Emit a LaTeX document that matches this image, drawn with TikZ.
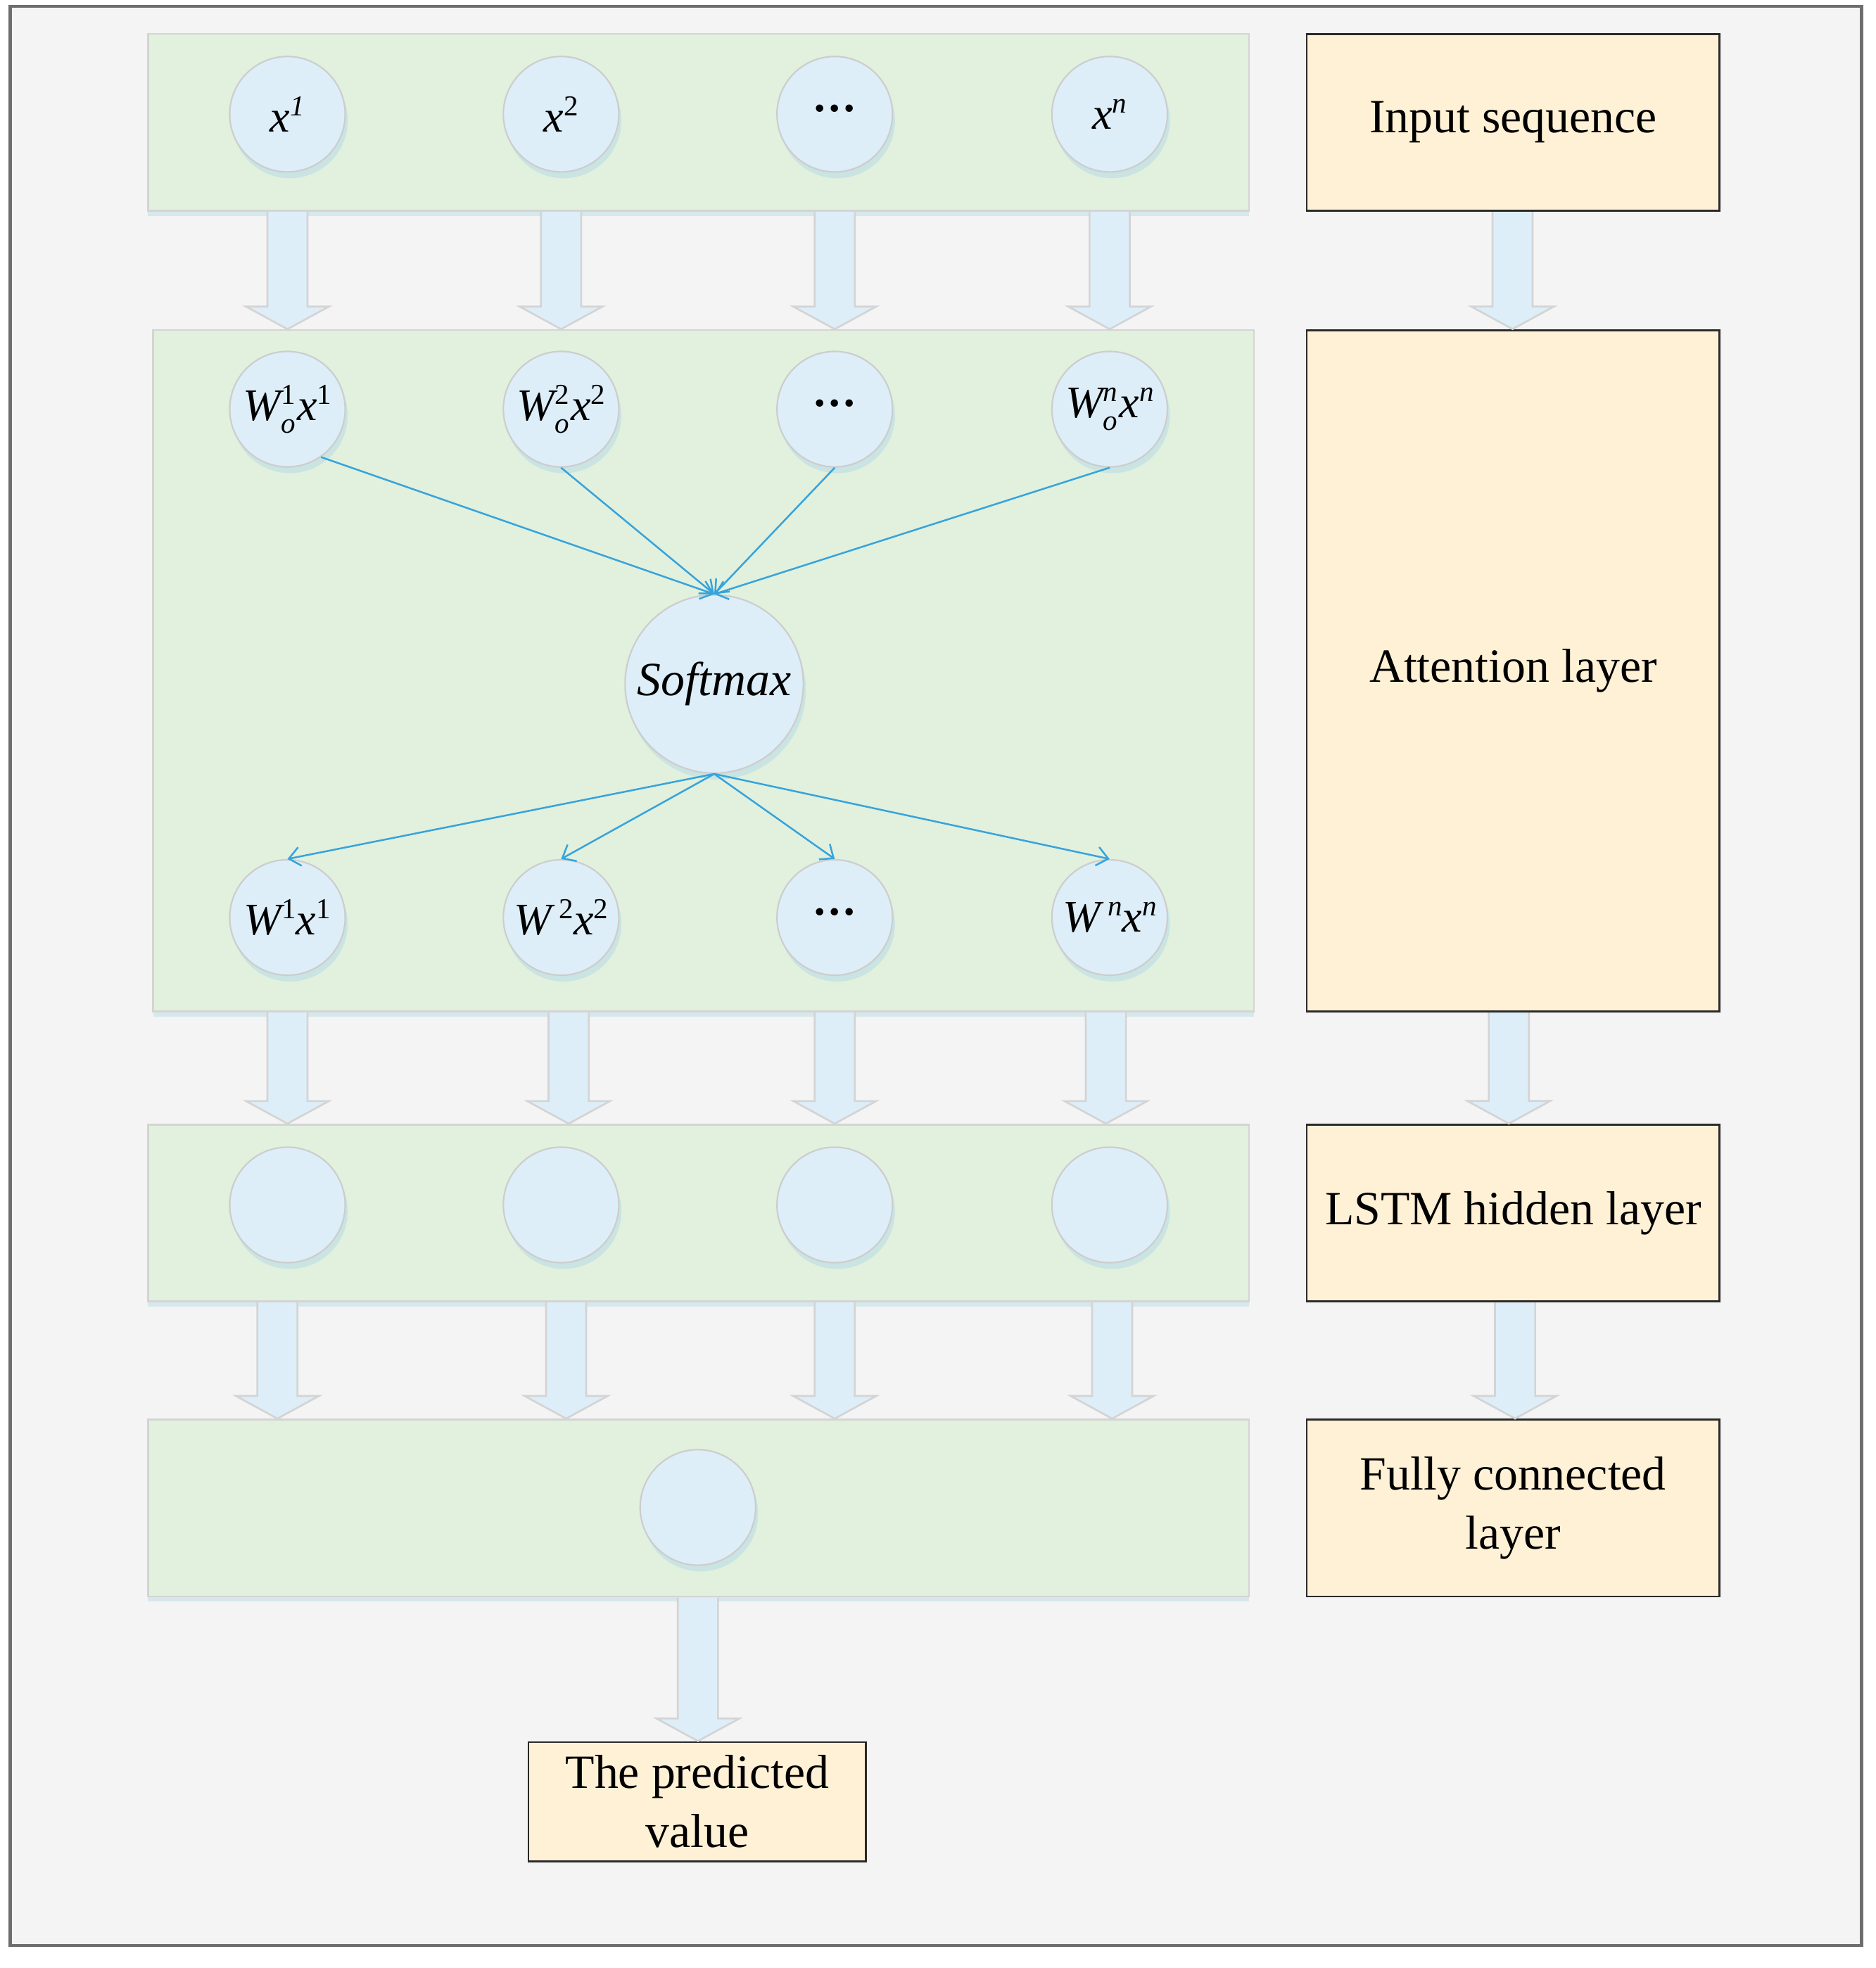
\documentclass[tikz,border=0pt]{standalone}
\usepackage{fontspec}
\setmainfont{Liberation Serif}
\usetikzlibrary{arrows.meta,shadows,calc}
\definecolor{bgc}{HTML}{F4F4F4}
\definecolor{framec}{HTML}{6E6E6E}
\definecolor{panelc}{HTML}{E2F0DE}
\definecolor{panelb}{HTML}{D4D4D4}
\definecolor{circc}{HTML}{DDEEF9}
\definecolor{circb}{HTML}{CDCDCD}
\definecolor{boxc}{HTML}{FFF1D5}
\definecolor{boxb}{HTML}{2A2A2A}
\definecolor{linec}{HTML}{36A4DB}
\definecolor{shadc}{HTML}{B9DDE6}
\newcommand\lblsmall{\fontsize{23}{23}\selectfont}
\newcommand\supx[1]{\raisebox{0.36em}{\lblsmall #1}}
\newcommand\subsup[2]{\makebox[0pt][l]{\raisebox{0.36em}{\lblsmall #2}}\raisebox{-0.28em}{\lblsmall #1}\hspace{0.04em}}
\newcommand\barrow[3]{%
  \path (#1,0 |- #2.south) coordinate (ba1) (#1,0 |- #3.north) coordinate (ba2);
  \draw[blockarrow] ($(ba1)+(-16,0)$) -- ($(ba2)+(-16,-18)$) -- ($(ba2)+(-33,-18)$)
    -- (ba2) -- ($(ba2)+(33,-18)$) -- ($(ba2)+(16,-18)$) -- ($(ba1)+(16,0)$);
}
\begin{document}
\begin{tikzpicture}[x=1pt,y=-1pt,
  font=\fontsize{38}{47}\selectfont,
  panel/.style={draw=panelb, fill=panelc, line width=1.5pt, inner sep=0pt,
    minimum width=877pt, drop shadow={shadow xshift=0pt, shadow yshift=-4pt, fill=shadc, opacity=0.5}},
  layerbox/.style={draw=boxb, fill=boxc, line width=1.6pt, inner sep=0pt, align=center},
  neuron/.style={circle, draw=circb, fill=circc, line width=1.2pt, inner sep=0pt,
    minimum size=92pt, font=\fontsize{36}{40}\selectfont,
    drop shadow={shadow xshift=2pt, shadow yshift=-5pt, fill=shadc, opacity=0.6}},
  blockarrow/.style={draw=panelb, fill=circc, line width=1.5pt, line join=miter},
  conn/.style={draw=linec, line width=1.4pt, -{Straight Barb[length=9pt,width=15pt]}}
]
\useasboundingbox (0,0) rectangle (1494,1568);
\fill[white] (0,0) rectangle (1494,1568);
\draw[draw=framec, line width=2.5pt, fill=bgc] (8,5) rectangle (1483,1550);

% panels
\node[panel, minimum height=141pt] (p1) at (556.5,97.5) {};
\node[panel, minimum height=543pt] (p2) at (560.5,534.5) {};
\node[panel, minimum height=141pt] (p3) at (556.5,966.5) {};
\node[panel, minimum height=141pt] (p4) at (556.5,1201.5) {};

% right-hand boxes
\node[layerbox, minimum width=329pt, minimum height=141pt] (r1) at (1205.5,97.5) {Input sequence};
\node[layerbox, minimum width=329pt, minimum height=543pt] (r2) at (1205.5,534.5) {Attention layer};
\node[layerbox, minimum width=329pt, minimum height=141pt] (r3) at (1205.5,966.5) {LSTM hidden layer};
\node[layerbox, minimum width=329pt, minimum height=141pt] (r4) at (1205.5,1201.5) {Fully connected\\layer};
\node[layerbox, minimum width=269pt, minimum height=95pt] (out) at (555.5,1435.5) {The predicted\\value};

% neurons
\node[neuron] (t1) at (229,91) {{\itshape x}\supx{\itshape 1}};
\node[neuron] (t2) at (447,91) {{\itshape x}\supx{2}};
\node[neuron] (t3) at (665,91) {\textbf{···}};
\node[neuron] (t4) at (884,91) {{\itshape x}\supx{\itshape n}};

\node[neuron] (w1) at (229,326) {{\itshape W}\subsup{\itshape o}{1}{\itshape x}\supx{1}};
\node[neuron] (w2) at (447,326) {{\itshape W}\subsup{\itshape o}{2}{\itshape x}\supx{2}};
\node[neuron] (w3) at (665,326) {\textbf{···}};
\node[neuron] (w4) at (884,326) {{\itshape W}\subsup{\itshape o}{\itshape n}{\itshape x}\supx{\itshape n}};

\node[neuron, minimum size=142pt, font=\fontsize{38}{47}\selectfont\itshape] (sm) at (569,545) {Softmax};

\node[neuron] (v1) at (229,731) {{\itshape W}\supx{1}{\itshape x}\supx{1}};
\node[neuron] (v2) at (447,731) {{\itshape W}\,\supx{2}{\itshape x}\supx{2}};
\node[neuron] (v3) at (665,731) {\textbf{···}};
\node[neuron] (v4) at (884,731) {{\itshape W}\,\supx{\itshape n}{\itshape x}\supx{\itshape n}};

\node[neuron] (h1) at (229,960) {};
\node[neuron] (h2) at (447,960) {};
\node[neuron] (h3) at (665,960) {};
\node[neuron] (h4) at (884,960) {};

\node[neuron] (f1) at (556,1201) {};

% attention connectors
\draw[conn] (w1.-55) -- (sm.north);
\draw[conn] (w2.south) -- (sm.north);
\draw[conn] (w3.south) -- (sm.north);
\draw[conn] (w4.south) -- (sm.north);
\draw[conn] (sm.south) -- (v1.north);
\draw[conn] (sm.south) -- (v2.north);
\draw[conn] (sm.south) -- (v3.north);
\draw[conn] (sm.south) -- (v4.north);

% block arrows
\barrow{229}{p1}{p2}
\barrow{447}{p1}{p2}
\barrow{665}{p1}{p2}
\barrow{884}{p1}{p2}
\barrow{229}{p2}{p3}
\barrow{453}{p2}{p3}
\barrow{665}{p2}{p3}
\barrow{881}{p2}{p3}
\barrow{221}{p3}{p4}
\barrow{451}{p3}{p4}
\barrow{665}{p3}{p4}
\barrow{886}{p3}{p4}
\barrow{556}{p4}{out}
\barrow{1205}{r1}{r2}
\barrow{1202}{r2}{r3}
\barrow{1207}{r3}{r4}
\end{tikzpicture}
\end{document}
